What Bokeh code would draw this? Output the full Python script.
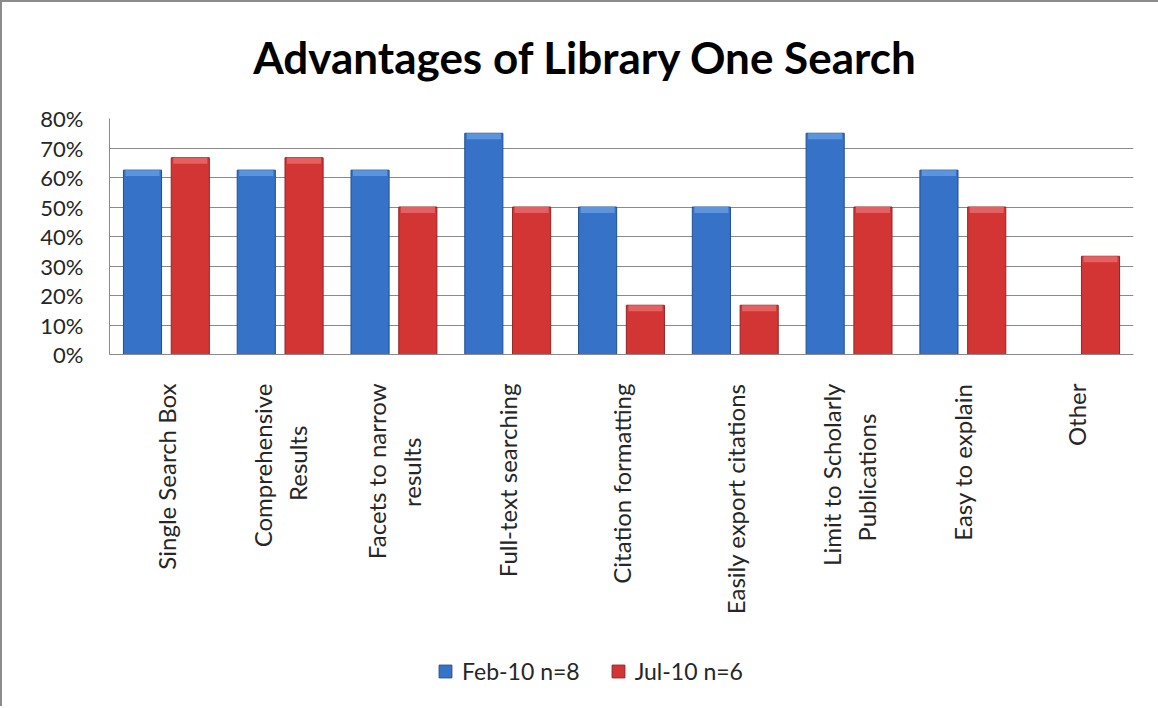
import math
from bokeh.plotting import figure
from bokeh.layouts import column
from bokeh.models import (FactorRange, Range1d, NumeralTickFormatter, Legend,
                          LegendItem, ColumnDataSource, FixedTicker, Label)
from bokeh.transform import dodge
from bokeh.embed import file_html
from bokeh.resources import INLINE

# ---- data ----
EN = "\u2002"
NB = "\u00a0"
categories = [
    "Single Search Box",
    "Comprehensive\nResults" + EN * 3 + NB,
    "Facets to narrow\nresults" + EN * 4 + NB,
    "Full-text searching",
    "Citation formatting",
    "Easily export citations",
    "Limit to Scholarly\nPublications" + EN * 2 + NB,
    "Easy to explain",
    "Other",
]
feb_10 = [0.625, 0.625, 0.625, 0.75, 0.50, 0.50, 0.75, 0.625, 0.0]
jul_10 = [0.667, 0.667, 0.50, 0.50, 0.167, 0.167, 0.50, 0.50, 0.333]
series_names = ["Feb-10 n=8", "Jul-10 n=6"]
y_ticks = [0.0, 0.1, 0.2, 0.3, 0.4, 0.5, 0.6, 0.7, 0.8]
title_text = "Advantages of Library One Search"

FONT = "Lato"
GRID = "#8a8a8a"
TXT = "#262626"
BLUE, BLUE_EDGE, BLUE_HI = "#3572c8", "#1f4f93", "#5c95de"
RED, RED_EDGE, RED_HI = "#d33535", "#962222", "#e56060"
CAP = 0.02  # depth of the lighter bevel at the top of each bar (styling)

src = dict(cat=categories, feb=feb_10, jul=jul_10)
src["feb_cap"] = [max(v - CAP, 0) for v in feb_10]
src["jul_cap"] = [max(v - CAP, 0) for v in jul_10]
source = ColumnDataSource(src)

W = 1156
FRAME_W = 1024

# ---- title strip ----
p0 = figure(width=W, height=100, x_range=Range1d(0, FRAME_W), y_range=Range1d(0, 100),
            output_backend="svg", toolbar_location=None,
            x_axis_location=None, y_axis_location=None,
            min_border_left=107, min_border_right=25, min_border_top=0, min_border_bottom=0)
p0.outline_line_color = None
p0.xgrid.grid_line_color = None
p0.ygrid.grid_line_color = None
p0.border_fill_color = "white"
p0.add_layout(Label(x=476, y=0, y_offset=46, text=title_text, text_align="center",
                    text_baseline="alphabetic", text_font=FONT, text_font_style="bold",
                    text_font_size="44px", text_color="black"))

# ---- main chart ----
p = figure(
    x_range=FactorRange(factors=categories, range_padding=0),
    y_range=Range1d(0, 0.8),
    width=W, height=540,
    output_backend="svg", toolbar_location=None,
    min_border_left=107, min_border_right=25,
    min_border_top=16, min_border_bottom=288,
)
p.outline_line_color = None
p.background_fill_color = "white"
p.border_fill_color = "white"

blue = p.vbar(x=dodge("cat", -0.21, range=p.x_range), top="feb", width=0.335,
              source=source, fill_color=BLUE, line_color=BLUE_EDGE, line_width=1)
red = p.vbar(x=dodge("cat", 0.21, range=p.x_range), top="jul", width=0.335,
             source=source, fill_color=RED, line_color=RED_EDGE, line_width=1)
p.vbar(x=dodge("cat", -0.21, range=p.x_range), top="feb", bottom="feb_cap", width=0.30,
       source=source, fill_color=BLUE_HI, line_color=None)
p.vbar(x=dodge("cat", 0.21, range=p.x_range), top="jul", bottom="jul_cap", width=0.30,
       source=source, fill_color=RED_HI, line_color=None)

p.yaxis.ticker = FixedTicker(ticks=y_ticks)
p.yaxis.formatter = NumeralTickFormatter(format="0%")
p.yaxis.major_label_text_font = FONT
p.yaxis.major_label_text_font_size = "22px"
p.yaxis.major_label_text_color = TXT
p.yaxis.major_tick_line_color = None
p.yaxis.minor_tick_line_color = None
p.yaxis.major_tick_out = 0
p.yaxis.major_tick_in = 0
p.yaxis.major_label_standoff = 26
p.yaxis.axis_line_color = GRID

p.xaxis.major_label_orientation = math.pi / 2
p.xaxis.major_label_text_font = FONT
p.xaxis.major_label_text_font_size = "24px"
p.xaxis.major_label_text_color = TXT
p.xaxis.major_tick_line_color = None
p.xaxis.major_tick_out = 0
p.xaxis.major_tick_in = 0
p.xaxis.major_label_standoff = 29
p.xaxis.axis_line_color = GRID

p.xgrid.grid_line_color = None
p.ygrid.ticker = FixedTicker(ticks=y_ticks)
p.ygrid.grid_line_color = GRID
p.ygrid.grid_line_width = 1

# ---- legend strip ----
p2 = figure(width=W, height=64, x_range=Range1d(0, 1), y_range=Range1d(0, 1),
            output_backend="svg", toolbar_location=None,
            x_axis_location=None, y_axis_location=None,
            min_border_left=0, min_border_right=0, min_border_top=0, min_border_bottom=0)
p2.outline_line_color = None
p2.xgrid.grid_line_color = None
p2.ygrid.grid_line_color = None
p2.border_fill_color = "white"
# legend swatches only (kept outside the visible range)
lb = p2.vbar(x=[-1], top=[-1], bottom=[-2], width=0.1, fill_color=BLUE, line_color=BLUE_EDGE)
lr = p2.vbar(x=[-1], top=[-1], bottom=[-2], width=0.1, fill_color=RED, line_color=RED_EDGE)

legend = Legend(
    items=[LegendItem(label=series_names[0], renderers=[lb]),
           LegendItem(label=series_names[1], renderers=[lr])],
    orientation="horizontal",
    location=(328, 21),
    glyph_width=16, glyph_height=16,
    label_standoff=9, spacing=30, padding=0, margin=0,
    border_line_color=None, background_fill_alpha=0,
    label_text_font=FONT, label_text_font_size="23px", label_text_color=TXT,
)
p2.add_layout(legend, "center")

layout = column(p0, p, p2, spacing=0)
layout.styles = {"border-top": "2px solid #8c8c8c", "border-left": "2px solid #8c8c8c"}

open("out.html", "w").write(file_html(layout, INLINE))
